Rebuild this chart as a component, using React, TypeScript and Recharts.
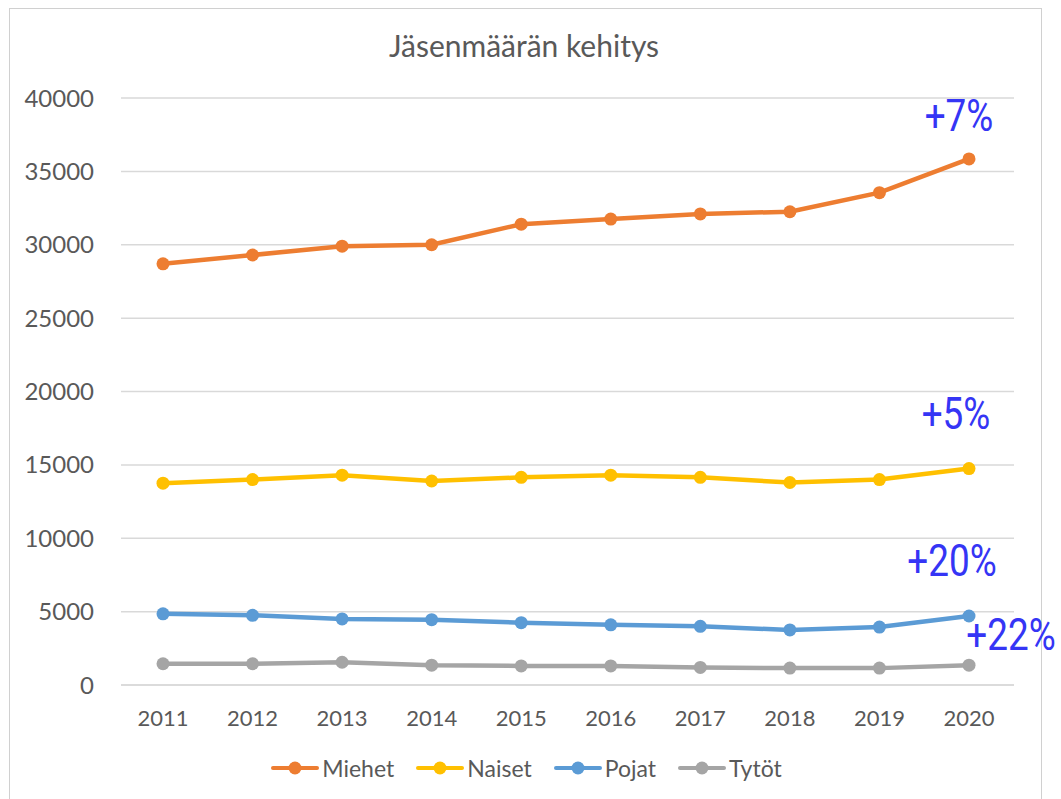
import React from "react";
import {
  LineChart,
  Line,
  XAxis,
  YAxis,
  CartesianGrid,
  LabelList,
} from "recharts";

const years = ["2011", "2012", "2013", "2014", "2015", "2016", "2017", "2018", "2019", "2020"];
const miehet = [28700, 29300, 29900, 30000, 31400, 31750, 32100, 32250, 33550, 35850];
const naiset = [13750, 14000, 14300, 13900, 14150, 14300, 14150, 13800, 14000, 14750];
const pojat = [4850, 4750, 4500, 4450, 4250, 4100, 4000, 3750, 3950, 4700];
const tytot = [1450, 1450, 1550, 1350, 1300, 1300, 1200, 1150, 1150, 1350];
const yTicks = [0, 5000, 10000, 15000, 20000, 25000, 30000, 35000, 40000];
const growth = { Miehet: "+7%", Naiset: "+5%", Pojat: "+20%", "Tytöt": "+22%" };

const data = years.map((year, i) => ({
  year,
  Miehet: miehet[i],
  Naiset: naiset[i],
  Pojat: pojat[i],
  "Tytöt": tytot[i],
}));

const series = [
  { key: "Miehet", color: "#ED7D31", dx: -10, dy: -28 },
  { key: "Naiset", color: "#FFC000", dx: -13, dy: -40 },
  { key: "Pojat", color: "#5B9BD5", dx: -17, dy: -40 },
  { key: "Tytöt", color: "#A5A5A5", dx: 42, dy: -15 },
];

const gray = "#595959";
const font = "Lato, 'Open Sans', sans-serif";

function growthLabel(name: string, dx: number, dy: number) {
  return (props: any) => {
    const { index, x, y } = props;
    if (index !== years.length - 1) return null;
    return (
      <text
        transform={`translate(${x + dx},${y + dy}) scale(0.82,1)`}
        textAnchor="middle"
        fill="#3535F5"
        fontSize={45}
        fontFamily="Roboto, sans-serif"
      >
        {growth[name as keyof typeof growth]}
      </text>
    );
  };
}

function LegendBox() {
  return (
    <div
      style={{
        position: "absolute",
        left: 0,
        width: 1053,
        top: 754,
        display: "flex",
        justifyContent: "center",
        gap: 22,
        fontFamily: font,
        fontSize: 23,
        color: gray,
      }}
    >
      {series.map((s) => (
        <div key={s.key} style={{ display: "flex", alignItems: "center" }}>
          <svg width={48} height={16} style={{ marginRight: 3 }}>
            <line x1={2} y1={8} x2={46} y2={8} stroke={s.color} strokeWidth={4} strokeLinecap="round" />
            <circle cx={24} cy={8} r={6.5} fill={s.color} />
          </svg>
          <span>{s.key}</span>
        </div>
      ))}
    </div>
  );
}

export default function App() {
  return (
    <div style={{ position: "absolute", left: 0, top: 0, width: 1061, height: 799, background: "#fff", overflow: "hidden" }}>
      <div
        style={{
          position: "absolute",
          left: 9,
          top: 8,
          width: 1031,
          height: 820,
          border: "1.5px solid #d0d0d0",
        }}
      />
      <div
        style={{
          position: "absolute",
          left: 0,
          width: 1048,
          top: 27,
          textAlign: "center",
          fontFamily: font,
          fontSize: 30,
          color: gray,
        }}
      >
        Jäsenmäärän kehitys
      </div>
      <div style={{ position: "absolute", left: 0, top: 0 }}>
        <LineChart
          width={1061}
          height={799}
          data={data}
          margin={{ top: 98, right: 47, bottom: 74, left: 0 }}
        >
          <CartesianGrid vertical={false} stroke="#d9d9d9" strokeWidth={1.5} />
          <XAxis
            dataKey="year"
            padding={{ left: 42, right: 45 }}
            axisLine={{ stroke: "#d9d9d9", strokeWidth: 1.5 }}
            tickLine={false}
            tickSize={0}
            tickMargin={25}
            tick={{ fill: gray, fontSize: 22, fontFamily: font }}
            height={40}
          />
          <YAxis
            domain={[0, 40000]}
            ticks={yTicks}
            width={121}
            axisLine={false}
            tickLine={false}
            tickSize={0}
            tickMargin={27}
            tick={{ fill: gray, fontSize: 24, fontFamily: font }}
          />
          {series.map((s) => (
            <Line
              key={s.key}
              dataKey={s.key}
              stroke={s.color}
              strokeWidth={4.5}
              dot={{ r: 6.5, fill: s.color, stroke: s.color, strokeWidth: 0 }}
              isAnimationActive={false}
            >
              <LabelList dataKey={s.key} content={growthLabel(s.key, s.dx, s.dy)} />
            </Line>
          ))}
        </LineChart>
      </div>
      <LegendBox />
    </div>
  );
}
